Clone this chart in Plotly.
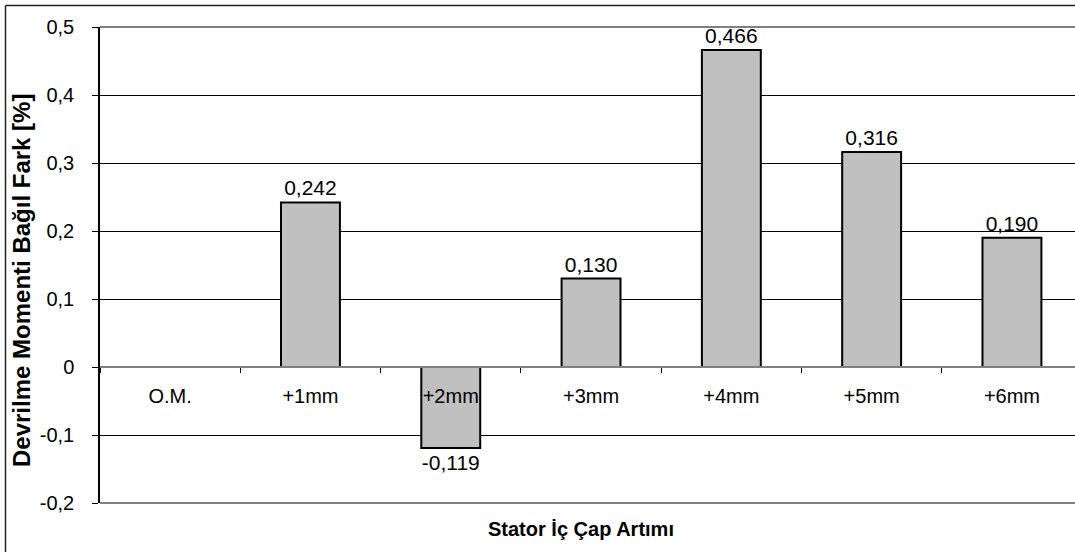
import plotly.graph_objects as go

categories = ["O.M.", "+1mm", "+2mm", "+3mm", "+4mm", "+5mm", "+6mm"]
values = [0.0, 0.242, -0.119, 0.130, 0.466, 0.316, 0.190]
y_ticks = [-0.2, -0.1, 0, 0.1, 0.2, 0.3, 0.4, 0.5]
y_tick_text = ["-0,2", "-0,1", "0", "0,1", "0,2", "0,3", "0,4", "0,5"]
x_title = "Stator İç Çap Artımı"
y_title = "Devrilme Momenti Bağıl Fark [%]"

labels = ["" if v == 0 else f"{v:.3f}".replace(".", ",") for v in values]

W, H = 1075, 552
ML, MT, MB, MR = 100, 27, 49, 0
pw = W - ML - MR
ph = H - MT - MB
ymin, ymax = -0.2, 0.5

def px_to_paper_x(px):
    return (px - ML) / pw

def px_to_paper_y(py):
    return (H - MB - py) / ph

FONT = "Liberation Sans, Arial, sans-serif"
FS = 20

fig = go.Figure()
fig.add_trace(go.Bar(
    x=categories, y=values,
    width=0.42,
    marker=dict(color="#C0C0C0", line=dict(color="black", width=2)),
    text=labels, textposition="outside", constraintext="none",
    textfont=dict(family=FONT, size=FS + 1, color="black"),
    cliponaxis=False,
    hoverinfo="skip",
))

zero_pos = (0 - ymin) / (ymax - ymin)

fig.update_layout(
    width=W, height=H,
    margin=dict(l=ML, r=MR, t=MT, b=MB, pad=0),
    paper_bgcolor="white", plot_bgcolor="white",
    showlegend=False,
    font=dict(family=FONT, size=FS, color="black"),
    xaxis=dict(
        range=[-0.5, -0.5 + pw / 140.3],
        anchor="free", position=zero_pos,
        showgrid=False, zeroline=False,
        showline=True, linecolor="#808080", linewidth=2,
        ticks="outside", tickson="boundaries", ticklen=5, tickcolor="black", tickwidth=1,
        ticklabelstandoff=11,
        tickfont=dict(family=FONT, size=FS, color="black"),
        fixedrange=True,
    ),
    yaxis=dict(
        range=[ymin, ymax],
        tickvals=y_ticks, ticktext=y_tick_text,
        showgrid=True, gridcolor="black", gridwidth=1,
        zeroline=False,
        showline=True, linecolor="black", linewidth=1.5,
        ticks="outside", ticklen=6, tickcolor="black", tickwidth=1,
        ticklabelstandoff=14,
        tickfont=dict(family=FONT, size=FS, color="black"),
        fixedrange=True,
    ),
    shapes=[
        dict(type="line", xref="paper", yref="paper", x0=0, x1=1.01, y0=1, y1=1,
             line=dict(color="#808080", width=2), layer="above"),
        dict(type="line", xref="paper", yref="paper", x0=0, x1=1.01, y0=0, y1=0,
             line=dict(color="#808080", width=2), layer="above"),
        dict(type="line", xref="paper", yref="paper",
             x0=px_to_paper_x(5.5), x1=px_to_paper_x(W + 5),
             y0=px_to_paper_y(5.5), y1=px_to_paper_y(5.5),
             line=dict(color="#222222", width=1.5), layer="above"),
        dict(type="line", xref="paper", yref="paper",
             x0=px_to_paper_x(5.5), x1=px_to_paper_x(5.5),
             y0=px_to_paper_y(5.5), y1=px_to_paper_y(H + 5),
             line=dict(color="#222222", width=1.5), layer="above"),
    ],
    annotations=[
        dict(text=f"<b>{x_title}</b>", xref="paper", yref="paper",
             x=px_to_paper_x(581), y=px_to_paper_y(529),
             xanchor="center", yanchor="middle", showarrow=False,
             font=dict(family=FONT, size=FS, color="black")),
        dict(text=f"<b>{y_title}</b>", xref="paper", yref="paper",
             x=px_to_paper_x(21), y=px_to_paper_y(281),
             xanchor="center", yanchor="middle", showarrow=False, textangle=-90,
             font=dict(family=FONT, size=24, color="black")),
    ],
)

fig.write_html("out.html", config={"displayModeBar": False},
               post_script="document.body.style.margin='0';")
